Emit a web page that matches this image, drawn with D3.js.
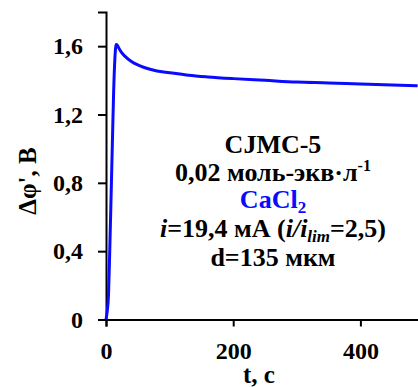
<!DOCTYPE html>
<html>
<head>
<meta charset="utf-8">
<script src="https://cdn.jsdelivr.net/npm/d3@7"></script>
<style>
  body { margin: 0; background: #fff; }
</style>
</head>
<body>
<svg id="grafico"></svg>
<script>
// --- DATOS ---
const tiempos = [0, 2, 4, 6, 8, 10, 12, 14, 16, 18, 20, 24, 30, 40, 50, 60, 80, 100, 130, 160, 200, 250, 300, 350, 400, 450, 490];
const potencial = [0, 0.05, 0.15, 0.42, 0.72, 1.03, 1.33, 1.53, 1.61, 1.605, 1.59, 1.565, 1.54, 1.51, 1.49, 1.475, 1.455, 1.445, 1.43, 1.42, 1.41, 1.40, 1.39, 1.385, 1.378, 1.372, 1.368];
const ticksX = [0, 200, 400];
const ticksY = [0, 0.4, 0.8, 1.2, 1.6];
const etiquetasY = ["0", "0,4", "0,8", "1,2", "1,6"];

const fuente = "Liberation Serif";
const width = 418, height = 387;
const svg = d3.select("#grafico").attr("width", width).attr("height", height)
  .attr("font-family", fuente).attr("font-weight", "bold");

const x = d3.scaleLinear().domain([0, 500]).range([106, 424]);
const y = d3.scaleLinear().domain([0, 1.8]).range([319.5, 12]);

// --- EJES ---
const ejeX = svg.append("g")
  .attr("transform", `translate(0,${y(0)})`)
  .call(d3.axisBottom(x).tickValues(ticksX).tickSize(7).tickPadding(15).tickFormat(d3.format("d")));

const ejeY = svg.append("g")
  .attr("transform", `translate(${x(0)},0)`)
  .call(d3.axisLeft(y).tickValues(ticksY).tickSize(8).tickPadding(15).tickFormat((d, i) => etiquetasY[i]));

[ejeX, ejeY].forEach(g => {
  g.attr("font-family", fuente).attr("font-size", 24);
  g.select(".domain").attr("stroke", "#000").attr("stroke-width", 2);
  g.selectAll(".tick line").attr("stroke", "#000").attr("stroke-width", 2);
  g.selectAll(".tick text")
    .attr("fill", "#000")
    .attr("font-family", fuente)
    .attr("font-weight", "bold")
    .attr("font-size", 24);
});

// --- CURVA ---
const puntos = tiempos.map((t, i) => [t, potencial[i]]);
svg.append("path")
  .datum(puntos)
  .attr("fill", "none")
  .attr("stroke", "#0a0aff")
  .attr("stroke-width", 3)
  .attr("d", d3.line().x(d => x(d[0])).y(d => y(d[1])).curve(d3.curveMonotoneX));

// --- TITULOS ---
svg.append("text")
  .attr("x", 259).attr("y", 383)
  .attr("text-anchor", "middle")
  .attr("font-size", 25)
  .text("t, c");

svg.append("text")
  .attr("transform", "translate(36,181) rotate(-90)")
  .attr("text-anchor", "middle")
  .attr("font-size", 25)
  .text("Δφ', В");

// --- ANOTACION ---
const cx = 273;
const anot = svg.append("g").attr("text-anchor", "middle").attr("font-size", 26);

anot.append("text").attr("x", cx).attr("y", 153).text("CJMC-5");

const l2 = anot.append("text").attr("x", cx).attr("y", 181);
l2.append("tspan").text("0,02 моль-экв·л");
l2.append("tspan").attr("font-size", 16).attr("dy", -10).text("-1");

const l3 = anot.append("text").attr("x", cx).attr("y", 208).attr("fill", "#0a0aff");
l3.append("tspan").text("CaCl");
l3.append("tspan").attr("font-size", 17).attr("dy", 5).text("2");

const l4 = anot.append("text").attr("x", cx).attr("y", 237);
l4.append("tspan").attr("font-style", "italic").text("i");
l4.append("tspan").text("=19,4 мА (");
l4.append("tspan").attr("font-style", "italic").text("i/i");
l4.append("tspan").attr("font-style", "italic").attr("font-size", 17).attr("dy", 5).text("lim");
l4.append("tspan").attr("dy", -5).text("=2,5)");

anot.append("text").attr("x", cx).attr("y", 266).text("d=135 мкм");
</script>
</body>
</html>
